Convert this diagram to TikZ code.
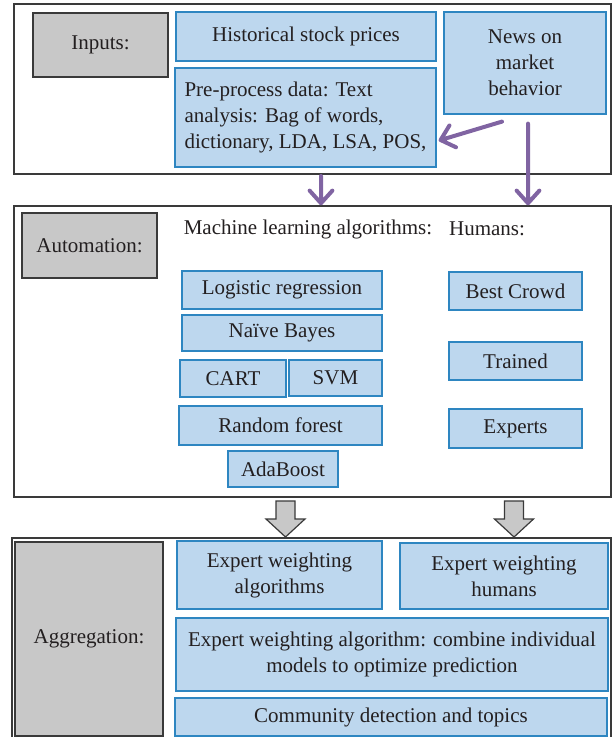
\documentclass[tikz,border=0pt]{standalone}
\usepackage{fontspec}
\setmainfont{Liberation Serif}
\usetikzlibrary{calc}
\definecolor{boxblue}{RGB}{189,215,238}
\definecolor{edgeblue}{RGB}{46,134,193}
\definecolor{labelgrey}{RGB}{200,200,200}
\definecolor{framegrey}{RGB}{58,58,58}
\definecolor{arrowpurple}{RGB}{128,100,162}
\definecolor{txtgrey}{RGB}{35,31,32}
\begin{document}
\begin{tikzpicture}[x=1pt,y=-1pt,
  every node/.style={font=\fontsize{21}{26}\selectfont, text=txtgrey},
  frame/.style={draw=framegrey, line width=1.5pt, minimum width=597pt},
  labelbox/.style={draw=framegrey, line width=1.5pt, fill=labelgrey},
  bluebox/.style={draw=edgeblue, line width=1.2pt, fill=boxblue, align=center},
  purplearrow/.style={draw=arrowpurple, line width=4pt, line cap=round, line join=round},
  blockarrow/.style={draw=framegrey, line width=1.2pt, fill=labelgrey}]
\useasboundingbox (0,0) rectangle (613,737);

% inputs
\node[frame, minimum height=170pt] (inframe) at (312.5,89) {};
\node[labelbox, minimum width=135pt, minimum height=64pt] (inputs) at (100.5,45) {Inputs:};
\node[bluebox, minimum width=260pt, minimum height=49pt] (hist) at (306,36.5) {Historical stock prices};
\node[bluebox, minimum width=162pt, minimum height=102pt] (news) at (525,63) {News on\\market\\behavior};
\node[bluebox, align=left, minimum width=261pt, minimum height=99pt] (pre) at (305.5,117.5)
  {Pre-process data: Text\\analysis: Bag of words,\\dictionary, LDA, LSA, POS,};

% automation
\node[frame, minimum height=291pt] (autoframe) at (312.5,351.5) {};
\node[labelbox, minimum width=135pt, minimum height=65pt] (automation) at (89.5,245.5) {Automation:};
\node (mllabel) at (308,229) {Machine learning algorithms:};
\node (humlabel) at (487,229) {Humans:};
\node[bluebox, minimum width=200pt, minimum height=38pt] (logreg) at (282,290) {Logistic regression};
\node[bluebox, minimum width=200pt, minimum height=36pt] (bayes) at (282,333) {Naïve Bayes};
\node[bluebox, minimum width=106pt, minimum height=37pt] (cart) at (233,378.5) {CART};
\node[bluebox, minimum width=93pt, minimum height=36pt] (svm) at (335.5,378) {SVM};
\node[bluebox, minimum width=203pt, minimum height=39pt] (forest) at (280.5,425.5) {Random forest};
\node[bluebox, minimum width=110pt, minimum height=36pt] (ada) at (283,469) {AdaBoost};
\node[bluebox, minimum width=133pt, minimum height=38pt] (crowd) at (515.5,291) {Best Crowd};
\node[bluebox, minimum width=133pt, minimum height=38pt] (trained) at (515.5,361) {Trained};
\node[bluebox, minimum width=133pt, minimum height=39pt] (experts) at (515.5,428.5) {Experts};

% aggregation
\node[frame, minimum width=599pt, minimum height=222pt] (aggframe) at (311.5,649) {};
\node[labelbox, minimum width=148pt, minimum height=194pt] (aggregation) at (89,639) {Aggregation:};
\node[bluebox, minimum width=205pt, minimum height=68pt] (ewalg) at (279.5,575) {Expert weighting\\algorithms};
\node[bluebox, minimum width=208pt, minimum height=66pt] (ewhum) at (504,576) {Expert weighting\\humans};
\node[bluebox, minimum width=432pt, minimum height=73pt] (combine) at (392,654.5)
  {Expert weighting algorithm: combine individual\\models to optimize prediction};
\node[bluebox, minimum width=432pt, minimum height=38pt] (community) at (391,717) {Community detection and topics};

% purple arrows
\coordinate (diagfrom) at ([shift={(-23pt,-7pt)}]news.south);
\coordinate (diagto) at ([shift={(4pt,-22.5pt)}]pre.east);
\coordinate (newsfrom) at ([shift={(3pt,-9pt)}]news.south);
\coordinate (newsto) at ([shift={(3pt,2pt)}]autoframe.north -| news.south);
\coordinate (predown) at (321,176);
\coordinate (preto) at ([yshift=2pt]predown |- autoframe.north);
\foreach \a/\b in {diagfrom/diagto, newsfrom/newsto, predown/preto}
  \draw[purplearrow] ($(\b)!17pt!42:(\a)$) -- (\b) -- ($(\b)!17pt!-42:(\a)$) (\a) -- (\b);

% grey block arrows
\draw[blockarrow] (276,501) -- ++(19,0) -- ++(0,18) -- ++(10,0) -- ++(-19.5,18) -- ++(-19.5,-18) -- ++(10,0) -- cycle;
\draw[blockarrow] (504.5,501) -- ++(19,0) -- ++(0,18) -- ++(10,0) -- ++(-19.5,18) -- ++(-19.5,-18) -- ++(10,0) -- cycle;
\end{tikzpicture}
\end{document}
